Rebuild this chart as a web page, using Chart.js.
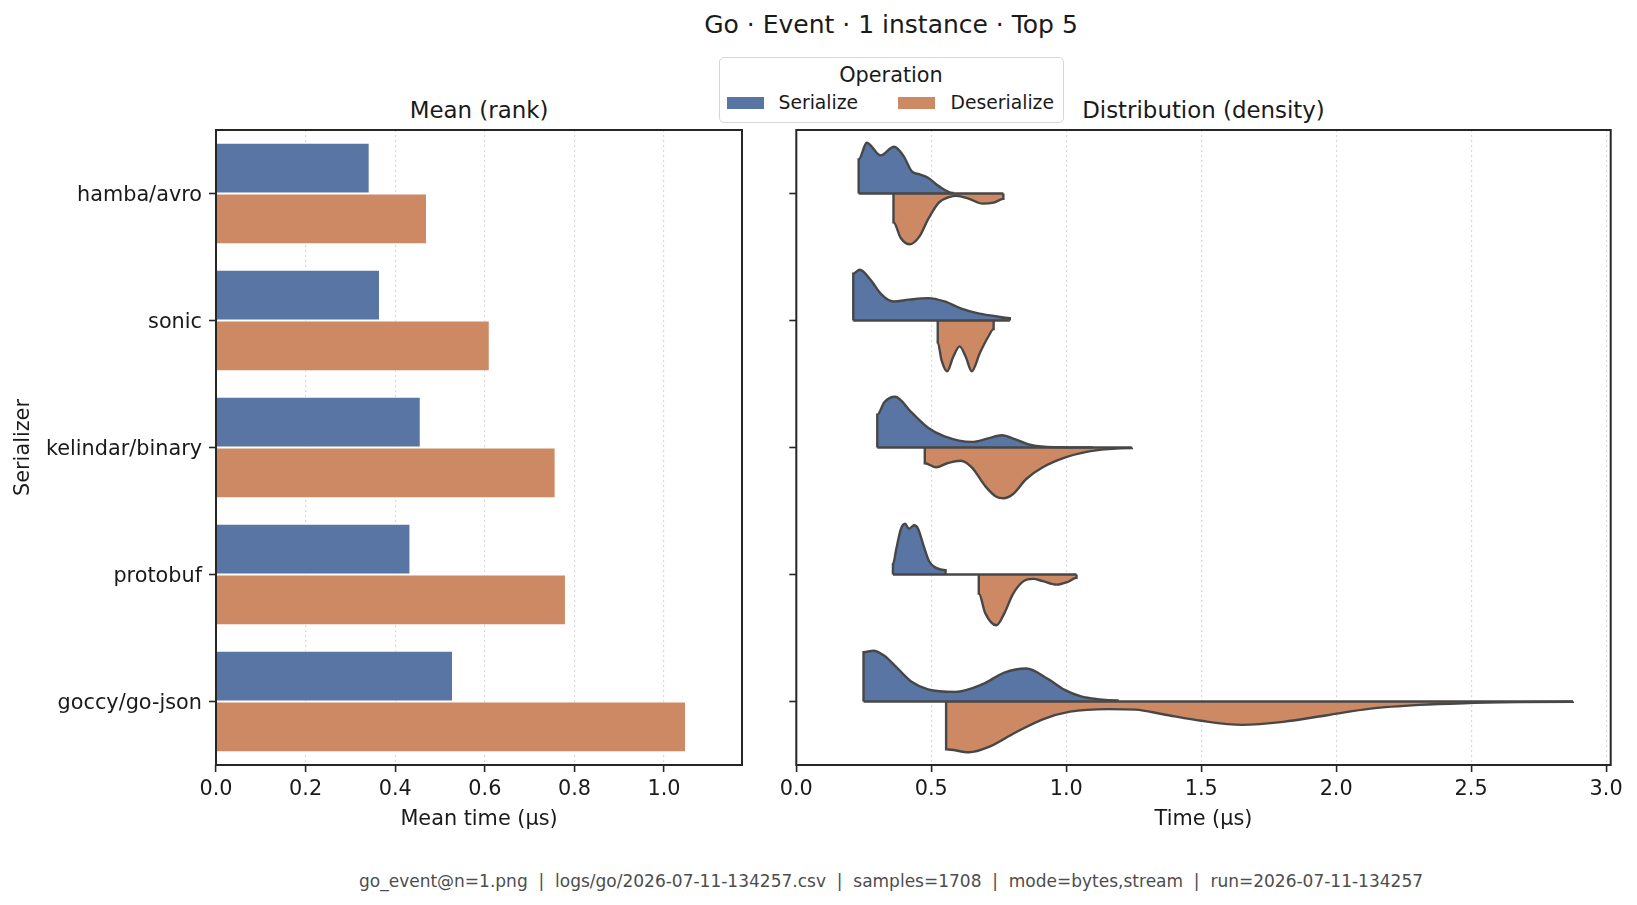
<!DOCTYPE html>
<html>
<head>
<meta charset="utf-8">
<script src="https://cdn.jsdelivr.net/npm/chart.js@4.4.1/dist/chart.umd.min.js"></script>
<style>
  body { margin: 0; background: #fff; font-family: 'DejaVu Sans', sans-serif; color: #1a1a1a; }
  #fig { position: relative; width: 1637px; height: 905px; overflow: hidden; }
  .abs { position: absolute; white-space: pre; }
  .ctr { transform: translateX(-50%); }
  .box { position: absolute; }
  .patch { position: absolute; width: 37px; height: 12px; }
  .lg { position: absolute; font-size: 18.75px; line-height: 22px; }
</style>
</head>
<body>
<div id="fig">
  <div class="abs ctr" style="left:891px; top:10px; font-size:25px; line-height:30px;">Go · Event · 1 instance · Top 5</div>
  <div class="abs ctr" style="left:479px; top:96px; font-size:22.9px; line-height:28px;">Mean (rank)</div>
  <div class="abs ctr" style="left:1203.5px; top:96px; font-size:22.9px; line-height:28px;">Distribution (density)</div>

  <div class="box" style="left:718.5px; top:56.5px; width:345px; height:66px; box-sizing:border-box; border:1.5px solid #d6d6d6; border-radius:5px; background:rgba(255,255,255,0.8);">
    <div style="position:absolute; left:0; right:0; top:4px; text-align:center; font-size:20.8px; line-height:26px;">Operation</div>
    <div class="patch" style="left:7px; top:39px; background:#5975a4;"></div>
    <div class="lg" style="left:59px; top:34px;">Serialize</div>
    <div class="patch" style="left:178px; top:39px; background:#cc8963;"></div>
    <div class="lg" style="left:231px; top:34px;">Deserialize</div>
  </div>

  <div class="box" style="left:0; top:110px; width:760px; height:735px;"><canvas id="mean"></canvas></div>
  <div class="box" style="left:760px; top:110px; width:877px; height:735px;"><canvas id="dist"></canvas></div>

  <div class="abs ctr" style="left:891px; top:871px; font-size:17px; line-height:20px; color:#4d4d4d;">go_event@n=1.png  |  logs/go/2026-07-11-134257.csv  |  samples=1708  |  mode=bytes,stream  |  run=2026-07-11-134257</div>
</div>
<script>
// data
const serializers = ['hamba/avro', 'sonic', 'kelindar/binary', 'protobuf', 'goccy/go-json'];
const meanSerialize = [0.343, 0.366, 0.457, 0.434, 0.529];
const meanDeserialize = [0.471, 0.611, 0.758, 0.781, 1.049];

// density profiles, [time µs, density relative to the half's peak]
const serializeDensity = [
  [[0.231, 0.67], [0.261, 1.0], [0.312, 0.75], [0.362, 0.92], [0.397, 0.74], [0.427, 0.44], [0.457, 0.375], [0.488, 0.31], [0.528, 0.145], [0.579, 0.013]],
  [[0.211, 0.92], [0.235, 1.0], [0.275, 0.80], [0.316, 0.51], [0.360, 0.375], [0.417, 0.41], [0.488, 0.44], [0.549, 0.375], [0.609, 0.24], [0.670, 0.145], [0.731, 0.09], [0.791, 0.046]],
  [[0.300, 0.645], [0.326, 0.89], [0.366, 1.0], [0.427, 0.69], [0.488, 0.39], [0.549, 0.22], [0.650, 0.11], [0.711, 0.18], [0.761, 0.24], [0.812, 0.16], [0.873, 0.046], [0.953, 0.007], [1.095, 0.002]],
  [[0.358, 0.2], [0.370, 0.49], [0.387, 0.89], [0.403, 1.0], [0.417, 0.9], [0.437, 0.97], [0.451, 0.9], [0.472, 0.56], [0.492, 0.26], [0.518, 0.13], [0.553, 0.085]],
  [[0.249, 0.97], [0.285, 1.0], [0.326, 0.9], [0.377, 0.64], [0.427, 0.39], [0.488, 0.24], [0.589, 0.19], [0.690, 0.34], [0.771, 0.57], [0.852, 0.65], [0.933, 0.44], [0.994, 0.23], [1.055, 0.1], [1.115, 0.046], [1.190, 0.02]]
];
const deserializeDensity = [
  [[0.360, 0.566], [0.387, 0.875], [0.421, 1.0], [0.457, 0.84], [0.488, 0.51], [0.528, 0.18], [0.569, 0.066], [0.593, 0.046], [0.640, 0.105], [0.690, 0.2], [0.731, 0.18], [0.767, 0.105]],
  [[0.524, 0.43], [0.538, 0.78], [0.559, 1.0], [0.581, 0.72], [0.605, 0.51], [0.628, 0.72], [0.650, 1.0], [0.680, 0.64], [0.711, 0.32], [0.731, 0.17]],
  [[0.476, 0.31], [0.518, 0.39], [0.559, 0.31], [0.609, 0.26], [0.650, 0.39], [0.700, 0.76], [0.741, 0.97], [0.767, 1.0], [0.802, 0.92], [0.852, 0.62], [0.913, 0.39], [0.994, 0.2], [1.075, 0.086], [1.156, 0.033], [1.243, 0.013]],
  [[0.676, 0.375], [0.700, 0.76], [0.741, 1.0], [0.771, 0.76], [0.802, 0.39], [0.842, 0.13], [0.877, 0.086], [0.913, 0.13], [0.964, 0.2], [1.004, 0.15], [1.038, 0.066]],
  [[0.555, 0.94], [0.640, 1.0], [0.711, 0.9], [0.812, 0.61], [0.913, 0.35], [1.014, 0.2], [1.156, 0.15], [1.257, 0.16], [1.358, 0.25], [1.500, 0.38], [1.652, 0.46], [1.804, 0.40], [1.966, 0.27], [2.128, 0.14], [2.310, 0.066], [2.472, 0.033], [2.674, 0.013], [2.877, 0.005]]
];

const BLUE = '#5975a4';
const ORANGE = '#cc8963';
const OUTLINE = '#474747';
const INK = '#1a1a1a';
const HALF = 0.4;
const FONT = { family: "'DejaVu Sans', sans-serif", size: 20.8 };

// box around the plotting area
const frame = {
  id: 'frame',
  afterDatasetsDraw(chart) {
    const { ctx, chartArea: a } = chart;
    ctx.save();
    ctx.strokeStyle = '#262626';
    ctx.lineWidth = 2;
    ctx.strokeRect(a.left, a.top, a.right - a.left, a.bottom - a.top);
    ctx.restore();
  }
};

const gridX = { color: '#d9d9d9', lineWidth: 1.2, tickLength: 7, tickColor: '#262626', tickWidth: 1.6 };

new Chart(document.getElementById('mean'), {
  type: 'bar',
  data: {
    labels: serializers,
    datasets: [
      { label: 'Serialize', data: meanSerialize, backgroundColor: BLUE, borderColor: '#fff', borderWidth: 1, categoryPercentage: 0.8, barPercentage: 1 },
      { label: 'Deserialize', data: meanDeserialize, backgroundColor: ORANGE, borderColor: '#fff', borderWidth: 1, categoryPercentage: 0.8, barPercentage: 1 }
    ]
  },
  options: {
    indexAxis: 'y',
    responsive: true,
    maintainAspectRatio: false,
    animation: false,
    layout: { padding: { left: 0, top: 20, right: 18, bottom: 13 } },
    plugins: { legend: { display: false }, tooltip: { enabled: false } },
    scales: {
      x: {
        type: 'linear', min: 0, max: 1.174,
        afterFit: s => { s.height = 67; },
        ticks: { stepSize: 0.2, includeBounds: false, padding: 5, color: INK, font: FONT, callback: v => v.toFixed(1) },
        grid: gridX,
        border: { display: false, dash: [2, 3] },
        title: { display: true, text: 'Mean time (µs)', color: INK, font: FONT, padding: 0 }
      },
      y: {
        afterFit: s => { s.width = 216; },
        ticks: { padding: 7, labelOffset: 2.5, color: INK, font: FONT },
        grid: { offset: false, drawOnChartArea: false, tickLength: 7, tickColor: '#262626', tickWidth: 1.6 },
        border: { display: false },
        title: { display: true, text: 'Serializer', color: INK, font: FONT, padding: { top: 11.5, bottom: 0 } }
      }
    }
  },
  plugins: [frame]
});

// one half of a split violin, filled back to the category line
function halfViolin(dens, cat, dir, color) {
  const pts = [{ x: dens[0][0], y: cat }];
  dens.forEach(([t, d]) => pts.push({ x: t, y: cat + dir * HALF * d }));
  pts.push({ x: dens[dens.length - 1][0], y: cat });
  return {
    data: pts, fill: { value: cat }, backgroundColor: color, borderColor: OUTLINE,
    borderWidth: 2.4, pointRadius: 0, cubicInterpolationMode: 'monotone'
  };
}

const baselines = [];
const halves = [];
serializers.forEach((name, i) => {
  const s = serializeDensity[i], d = deserializeDensity[i];
  const lo = Math.min(s[0][0], d[0][0]);
  const hi = Math.max(s[s.length - 1][0], d[d.length - 1][0]);
  baselines.push({ data: [{ x: lo, y: i }, { x: hi, y: i }], borderColor: OUTLINE, borderWidth: 2.4, pointRadius: 0, fill: false });
  halves.push(halfViolin(s, i, -1, BLUE));
  halves.push(halfViolin(d, i, 1, ORANGE));
});

new Chart(document.getElementById('dist'), {
  type: 'line',
  data: { datasets: baselines.concat(halves) },
  options: {
    responsive: true,
    maintainAspectRatio: false,
    animation: false,
    layout: { padding: { left: 0, top: 20, right: 26.3, bottom: 13 } },
    plugins: { legend: { display: false }, tooltip: { enabled: false } },
    scales: {
      x: {
        type: 'linear', min: 0, max: 3.017,
        afterFit: s => { s.height = 67; },
        ticks: { stepSize: 0.5, includeBounds: false, padding: 5, color: INK, font: FONT, callback: v => v.toFixed(1) },
        grid: gridX,
        border: { display: false, dash: [2, 3] },
        title: { display: true, text: 'Time (µs)', color: INK, font: FONT, padding: 0 }
      },
      y: {
        type: 'linear', min: -0.5, max: 4.5, reverse: true,
        afterBuildTicks: s => { s.ticks = serializers.map((_, i) => ({ value: i })); },
        afterFit: s => { s.width = 36.3; },
        ticks: { callback: () => '', font: FONT },
        grid: { drawOnChartArea: false, tickLength: 7, tickColor: '#262626', tickWidth: 1.6 },
        border: { display: false }
      }
    }
  },
  plugins: [frame]
});
</script>
</body>
</html>
